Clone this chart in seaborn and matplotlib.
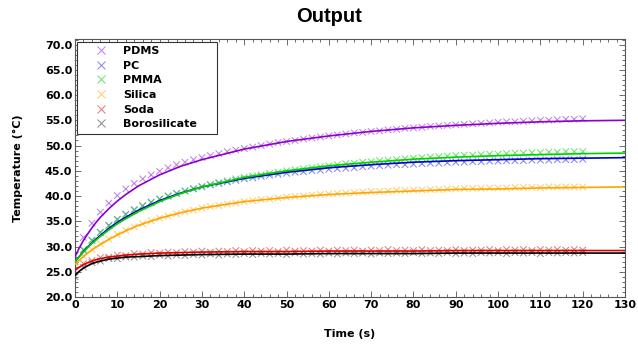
import matplotlib
matplotlib.use("Agg")
import matplotlib.pyplot as plt
import seaborn as sns
import pandas as pd
from matplotlib.ticker import MultipleLocator, FormatStrFormatter

materials = ["PDMS", "PC", "PMMA", "Silica", "Soda", "Borosilicate"]

# measured data (markers)
t_data = [0, 2, 4, 6, 8, 10, 12, 14, 16, 18,
          20, 22, 24, 26, 28, 30, 32, 34, 36, 38,
          40, 42, 44, 46, 48, 50, 52, 54, 56, 58,
          60, 62, 64, 66, 68, 70, 72, 74, 76, 78,
          80, 82, 84, 86, 88, 90, 92, 94, 96, 98,
          100, 102, 104, 106, 108, 110, 112, 114, 116, 118,
          120]

pdms_data = [28.2, 31.8, 34.6, 36.8, 38.6, 40.1, 41.4, 42.5, 43.4, 44.2,
             44.9, 45.6, 46.2, 46.7, 47.2, 47.6, 48.0, 48.4, 48.8, 49.1,
             49.4, 49.7, 50.0, 50.3, 50.6, 50.8, 51.0, 51.3, 51.5, 51.7,
             51.9, 52.1, 52.3, 52.5, 52.6, 52.8, 52.9, 53.1, 53.2, 53.4,
             53.5, 53.6, 53.8, 53.9, 54.0, 54.1, 54.2, 54.3, 54.4, 54.5,
             54.6, 54.7, 54.7, 54.8, 54.9, 55.0, 55.0, 55.1, 55.2, 55.2,
             55.3]
pc_data = [27.0, 29.3, 31.2, 32.8, 34.2, 35.4, 36.4, 37.3, 38.1, 38.8,
           39.4, 40.0, 40.5, 41.0, 41.4, 41.8, 42.2, 42.5, 42.8, 43.1,
           43.4, 43.6, 43.9, 44.1, 44.3, 44.5, 44.7, 44.8, 45.0, 45.1,
           45.3, 45.4, 45.5, 45.6, 45.8, 45.9, 46.0, 46.1, 46.2, 46.2,
           46.3, 46.4, 46.5, 46.5, 46.6, 46.7, 46.7, 46.8, 46.8, 46.9,
           46.9, 47.0, 47.0, 47.0, 47.1, 47.1, 47.1, 47.2, 47.2, 47.2,
           47.3]
pmma_data = [27.2, 29.4, 31.3, 32.8, 34.1, 35.3, 36.3, 37.2, 38.0, 38.7,
             39.4, 40.0, 40.5, 41.0, 41.5, 41.9, 42.3, 42.7, 43.0, 43.4,
             43.7, 44.0, 44.2, 44.5, 44.7, 45.0, 45.2, 45.4, 45.6, 45.8,
             46.0, 46.2, 46.4, 46.5, 46.7, 46.8, 47.0, 47.1, 47.2, 47.4,
             47.5, 47.6, 47.7, 47.8, 47.9, 48.0, 48.1, 48.1, 48.2, 48.3,
             48.3, 48.4, 48.5, 48.5, 48.6, 48.6, 48.7, 48.7, 48.8, 48.8,
             48.8]
silica_data = [26.6, 28.1, 29.4, 30.5, 31.5, 32.4, 33.2, 33.9, 34.5, 35.1,
               35.6, 36.0, 36.5, 36.9, 37.2, 37.6, 37.9, 38.1, 38.4, 38.6,
               38.9, 39.1, 39.3, 39.4, 39.6, 39.8, 39.9, 40.0, 40.2, 40.3,
               40.4, 40.5, 40.6, 40.7, 40.8, 40.9, 40.9, 41.0, 41.1, 41.1,
               41.2, 41.2, 41.3, 41.3, 41.4, 41.4, 41.5, 41.5, 41.5, 41.6,
               41.6, 41.6, 41.7, 41.7, 41.7, 41.7, 41.8, 41.8, 41.8, 41.8,
               41.8]
soda_data = [25.2, 26.6, 27.2, 27.8, 27.9, 28.3, 28.2, 28.6, 28.5, 28.8,
             28.7, 28.9, 28.8, 29.0, 28.9, 29.1, 28.9, 29.1, 29.0, 29.2,
             29.0, 29.2, 29.1, 29.2, 29.0, 29.3, 29.1, 29.2, 29.1, 29.3,
             29.1, 29.3, 29.2, 29.3, 29.1, 29.3, 29.2, 29.4, 29.2, 29.3,
             29.2, 29.4, 29.2, 29.3, 29.2, 29.4, 29.2, 29.3, 29.3, 29.4,
             29.2, 29.4, 29.3, 29.4, 29.2, 29.4, 29.3, 29.4, 29.3, 29.4,
             29.3]
boro_data = [24.0, 25.9, 26.8, 27.1, 27.6, 27.6, 27.9, 27.9, 28.1, 28.0,
             28.3, 28.1, 28.3, 28.2, 28.4, 28.3, 28.5, 28.3, 28.5, 28.4,
             28.6, 28.4, 28.6, 28.5, 28.6, 28.4, 28.7, 28.5, 28.6, 28.5,
             28.7, 28.5, 28.7, 28.6, 28.7, 28.5, 28.7, 28.6, 28.7, 28.6,
             28.8, 28.6, 28.7, 28.6, 28.8, 28.6, 28.7, 28.6, 28.8, 28.7,
             28.8, 28.6, 28.8, 28.7, 28.8, 28.6, 28.8, 28.7, 28.8, 28.7,
             28.8]

# fitted curves (lines)
t_fit = [0, 1, 2, 3, 4, 5, 6, 8, 10, 12, 15, 20, 25, 30, 40, 50, 60, 70, 80, 90, 100, 110, 120, 130]
pdms_fit = [28.0, 29.7, 31.2, 32.5, 33.7, 34.8, 35.8, 37.5, 39.0, 40.3, 42.0, 44.2, 45.9, 47.2,
            49.3, 50.8, 51.9, 52.8, 53.5, 54.0, 54.4, 54.7, 54.9, 55.0]
pc_fit = [27.0, 28.0, 29.0, 29.9, 30.7, 31.5, 32.2, 33.6, 34.8, 35.8, 37.2, 39.1, 40.6, 41.8,
          43.5, 44.7, 45.6, 46.2, 46.7, 47.0, 47.2, 47.4, 47.5, 47.6]
pmma_fit = [27.0, 28.0, 28.9, 29.8, 30.6, 31.3, 32.0, 33.3, 34.5, 35.5, 36.9, 38.9, 40.5, 41.8,
            43.7, 45.0, 46.0, 46.7, 47.3, 47.7, 48.0, 48.2, 48.4, 48.5]
silica_fit = [26.5, 27.3, 28.0, 28.7, 29.3, 29.9, 30.4, 31.4, 32.3, 33.1, 34.2, 35.6, 36.7, 37.6,
              38.9, 39.7, 40.3, 40.7, 41.0, 41.3, 41.4, 41.6, 41.7, 41.8]
soda_fit = [25.3, 25.9, 26.4, 26.8, 27.1, 27.4, 27.6, 27.9, 28.1, 28.3, 28.5, 28.7, 28.8, 28.9,
            29.0, 29.0, 29.1, 29.1, 29.1, 29.2, 29.2, 29.2, 29.2, 29.2]
boro_fit = [24.3, 25.1, 25.7, 26.2, 26.6, 26.9, 27.1, 27.5, 27.7, 27.9, 28.0, 28.2, 28.3, 28.4,
            28.5, 28.5, 28.6, 28.6, 28.6, 28.7, 28.7, 28.7, 28.7, 28.7]

data_series = [pdms_data, pc_data, pmma_data, silica_data, soda_data, boro_data]
fit_series = [pdms_fit, pc_fit, pmma_fit, silica_fit, soda_fit, boro_fit]

marker_colors = ["#A64FE0", "#5555E6", "#2EDB2E", "#FFB833", "#E04545", "#606060"]
line_colors = ["#8A00D0", "#0000C8", "#00D000", "#FFA500", "#DD0000", "#000000"]

df_data = pd.DataFrame({
    "Time": [t for s in data_series for t in t_data],
    "Temp": [v for s in data_series for v in s],
    "Material": [m for m, s in zip(materials, data_series) for _ in s],
})
df_fit = pd.DataFrame({
    "Time": [t for s in fit_series for t in t_fit],
    "Temp": [v for s in fit_series for v in s],
    "Material": [m for m, s in zip(materials, fit_series) for _ in s],
})

sns.set_style("ticks")
plt.rcParams["font.family"] = ["DejaVu Sans"]
plt.rcParams["text.color"] = "black"
plt.rcParams["axes.labelcolor"] = "black"

fig = plt.figure(figsize=(6.38, 3.44), dpi=100)
ax = fig.add_axes([75 / 638, 1 - 297 / 344, 550 / 638, (297 - 38.5) / 344])

sns.scatterplot(data=df_data, x="Time", y="Temp", hue="Material", hue_order=materials,
                palette=dict(zip(materials, marker_colors)), marker="x", s=22,
                linewidth=0.75, alpha=0.7, ax=ax, legend=True, zorder=2)
sns.lineplot(data=df_fit, x="Time", y="Temp", hue="Material", hue_order=materials,
             palette=dict(zip(materials, line_colors)), linewidth=1.2, ax=ax,
             legend=False, sort=True, zorder=3, estimator=None)

ax.set_xlim(0, 130)
ax.set_ylim(20, 71.2)
ax.xaxis.set_major_locator(MultipleLocator(10))
ax.xaxis.set_minor_locator(MultipleLocator(2))
ax.yaxis.set_major_locator(MultipleLocator(5))
ax.yaxis.set_minor_locator(MultipleLocator(1))
ax.yaxis.set_major_formatter(FormatStrFormatter("%.1f"))
ax.tick_params(which="both", direction="in", top=True, right=True, colors="#555555",
               labelcolor="black", width=0.6)
ax.tick_params(which="major", length=4, labelsize=8, pad=2)
ax.tick_params(which="minor", length=2)
for lab in ax.get_xticklabels() + ax.get_yticklabels():
    lab.set_fontweight("bold")
for sp in ax.spines.values():
    sp.set_color("#555555")
    sp.set_linewidth(0.8)

ax.set_xlabel("Time (s)", fontsize=8, fontweight="bold", labelpad=14)
ax.set_ylabel("Temperature (°C)", fontsize=8, fontweight="bold", labelpad=16)

fig.text(329 / 638, 1 - 17 / 344, "Output", ha="center", va="center", color="black",
         fontsize=14.5, fontweight="bold",
         family=["Liberation Sans Narrow", "Liberation Sans", "DejaVu Sans"])

leg = ax.legend(loc="upper left", bbox_to_anchor=(0.003, 0.5, 0.255, 0.488), mode="expand",
                frameon=True, fancybox=False, edgecolor="#333333", borderaxespad=0,
                borderpad=0.4, handlelength=3.5, handletextpad=0.3, labelspacing=0.42,
                markerscale=1.3, prop={"weight": "bold", "size": 8})
leg.get_frame().set_linewidth(0.8)
leg.get_frame().set_alpha(1)

fig.savefig("out.png", dpi=100)
